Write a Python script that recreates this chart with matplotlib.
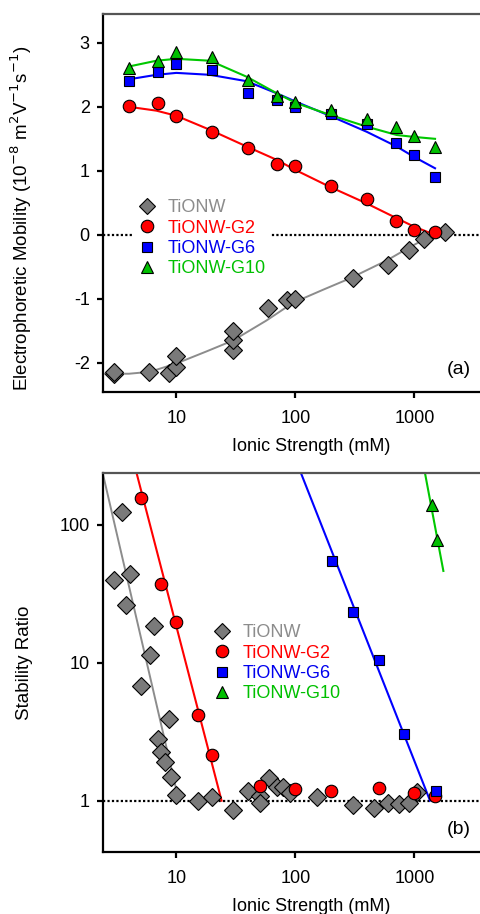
import numpy as np
import matplotlib
matplotlib.use("Agg")
import matplotlib.pyplot as plt
from matplotlib.lines import Line2D

plt.rcParams['font.family'] = ['Liberation Sans', 'DejaVu Sans']
plt.rcParams['axes.unicode_minus'] = False

# ---------------- Panel (a): electrophoretic mobility ----------------
x_ab = [4, 7, 10, 20, 40, 70, 100, 200, 400, 700, 1000, 1500]
mob_g2 = [2.01, 2.06, 1.86, 1.61, 1.35, 1.11, 1.08, 0.77, 0.56, 0.22, 0.07, 0.05]
mob_g6 = [2.41, 2.55, 2.67, 2.57, 2.21, 2.11, 1.99, 1.88, 1.73, 1.44, 1.24, 0.90]
mob_g10 = [2.60, 2.72, 2.85, 2.78, 2.42, 2.17, 2.07, 1.95, 1.81, 1.68, 1.55, 1.38]

x_bare = [3.0, 3.0, 5.9, 8.7, 10, 10, 30, 30, 30, 59, 85, 100, 305, 597, 910, 1200, 1820]
mob_bare = [-2.18, -2.15, -2.15, -2.16, -2.07, -1.89, -1.80, -1.64, -1.50, -1.14,
            -1.02, -1.01, -0.68, -0.47, -0.23, -0.07, 0.04]

# fitted curves
fit_x = [4, 6.8, 10, 19.2, 39, 70, 101, 195, 398, 710, 990, 1493]
fit_g10 = [2.63, 2.72, 2.75, 2.72, 2.47, 2.21, 2.06, 1.875, 1.69, 1.56, 1.53, 1.50]
fit_g6 = [2.43, 2.50, 2.53, 2.50, 2.40, 2.21, 2.08, 1.86, 1.61, 1.38, 1.22, 1.04]
fit_g2 = [2.00, 1.94, 1.86, 1.64, 1.38, 1.17, 1.01, 0.75, 0.49, 0.26, 0.13, 0.00]
fit_bare_x = [2.5, 4.0, 6.0, 10, 18, 30, 57, 96, 170, 288, 587, 920, 1190, 1753]
fit_bare = [-2.17, -2.17, -2.14, -2.01, -1.82, -1.65, -1.34, -1.06, -0.86, -0.68,
            -0.40, -0.19, -0.08, 0.01]

# ---------------- Panel (b): stability ratio ----------------
xs_bare = [3.52, 2.99, 4.05, 3.76, 6.5, 6.0, 5.0, 8.75, 7.07, 7.49, 8.04, 8.98, 10.0,
           15.2, 20, 30, 40, 50, 50, 60, 70, 79, 90, 151, 303, 457, 604, 745, 910, 1050]
W_bare = [124, 40, 44, 26.3, 18.6, 11.4, 6.76, 3.92, 2.79, 2.26, 1.90, 1.48, 1.10,
          0.99, 1.07, 0.86, 1.18, 1.08, 0.96, 1.46, 1.26, 1.25, 1.13, 1.07, 0.93, 0.88,
          0.96, 0.95, 0.96, 1.16]
xs_g2 = [5.0, 7.5, 10, 15.2, 20, 50, 100, 200, 508, 1000, 1500]
W_g2 = [157, 37.2, 19.8, 4.17, 2.15, 1.27, 1.21, 1.18, 1.24, 1.13, 1.08]
xs_g6 = [203, 305, 508, 812, 1517]
W_g6 = [55.2, 23.5, 10.4, 3.03, 1.17]
xs_g10 = [1417, 1540]
W_g10 = [140, 78]

line_bare_x = [2.4, 10.5]
line_bare_W = [240, 1.0]
line_g2_x = [4.64, 24]
line_g2_W = [237, 1.0]
line_g6_x = [111.7, 1355]
line_g6_W = [237, 1.0]
line_g10_x = [1230, 1754]
line_g10_W = [237, 46.4]

labels = ['TiONW', 'TiONW-G2', 'TiONW-G6', 'TiONW-G10']

# ---------------- styles ----------------
GRAY_F, RED_F, BLUE_F, GREEN_F = '#7a7a7a', '#ff0000', '#0000ff', '#00c000'
GRAY_L, RED_L, BLUE_L, GREEN_L = '#8c8c8c', '#ff0000', '#0000ff', '#00c800'
TXT = ['#8c8c8c', '#ff0000', '#0000ee', '#00c000']
FS = 13
MS_D, MS_O, MS_S, MS_T = 9.0, 9.0, 7.8, 8.8

W, H = 480, 914
fig = plt.figure(figsize=(W / 100, H / 100), dpi=100)


def ax_rect(left, top, right, bottom):
    return [left / W, 1 - bottom / H, (right - left) / W, (bottom - top) / H]


def style_axes(ax):
    for s in ['left', 'bottom']:
        ax.spines[s].set_linewidth(1.6)
        ax.spines[s].set_color('black')
    ax.spines['top'].set_linewidth(1.6)
    ax.spines['top'].set_color('#555555')
    ax.spines['right'].set_visible(False)
    ax.tick_params(which='major', direction='out', length=4.5, width=1.6,
                   labelsize=FS, top=False, right=False)
    ax.tick_params(axis='x', pad=8)
    ax.tick_params(axis='y', pad=5)
    ax.tick_params(which='minor', length=0)
    ax.set_xscale('log')
    ax.set_xticks([10, 100, 1000])
    ax.set_xticklabels(['10', '100', '1000'])


ms_kw = dict(markeredgecolor='black', markeredgewidth=0.8, linestyle='none')


def add_legend(ax, anchor):
    handles = [
        Line2D([], [], marker='D', markersize=8.4, markerfacecolor=GRAY_F, **ms_kw),
        Line2D([], [], marker='o', markersize=9.0, markerfacecolor=RED_F, **ms_kw),
        Line2D([], [], marker='s', markersize=7.8, markerfacecolor=BLUE_F, **ms_kw),
        Line2D([], [], marker='^', markersize=8.8, markerfacecolor=GREEN_F, **ms_kw),
    ]
    leg = ax.legend(handles, labels, loc='upper left', bbox_to_anchor=anchor,
                    fontsize=FS, frameon=True, facecolor='white', edgecolor='none',
                    framealpha=1, fancybox=False, handlelength=1.0, handletextpad=0.6,
                    labelspacing=0.18, borderpad=0.3, borderaxespad=0)
    for t, c in zip(leg.get_texts(), TXT):
        t.set_color(c)
    leg.set_zorder(4)
    return leg


# ---------------- top axes ----------------
ax1 = fig.add_axes(ax_rect(103, 14, 520, 392.3))
style_axes(ax1)
ax1.set_xlim(2.42, 7727)
ax1.set_ylim(-2.46, 3.45)
ax1.set_yticks([-2, -1, 0, 1, 2, 3])
ax1.axhline(0, color='black', linestyle=(0, (1, 1)), linewidth=1.6, zorder=1)

ax1.plot(fit_bare_x, fit_bare, color=GRAY_L, lw=1.4, zorder=2)
ax1.plot(fit_x, fit_g2, color=RED_L, lw=1.5, zorder=2)
ax1.plot(fit_x, fit_g6, color=BLUE_L, lw=1.5, zorder=2)
ax1.plot(fit_x, fit_g10, color=GREEN_L, lw=1.5, zorder=2)

ax1.plot(x_bare, mob_bare, marker='D', markersize=MS_D, markerfacecolor=GRAY_F, zorder=3, **ms_kw)
ax1.plot(x_ab, mob_g2, marker='o', markersize=MS_O, markerfacecolor=RED_F, zorder=3, **ms_kw)
ax1.plot(x_ab, mob_g6, marker='s', markersize=MS_S, markerfacecolor=BLUE_F, zorder=3, **ms_kw)
ax1.plot(x_ab, mob_g10, marker='^', markersize=MS_T, markerfacecolor=GREEN_F, zorder=3, **ms_kw)

ax1.set_xlabel('Ionic Strength (mM)', fontsize=FS, labelpad=8)
ax1.set_ylabel(r'Electrophoretic Mobility (10$^{-8}$ m$^{2}$V$^{-1}$s$^{-1}$)', fontsize=13.5)
ax1.yaxis.set_label_coords(-0.165, 0.46)
fig.text(447 / W, 1 - 370 / H, '(a)', fontsize=FS + 1, va='center', ha='left')
add_legend(ax1, ((133 - 103) / 417, (392.3 - 194) / 378.3))

# ---------------- bottom axes ----------------
ax2 = fig.add_axes(ax_rect(103, 473.3, 520, 852.3))
style_axes(ax2)
ax2.set_yscale('log')
ax2.set_xlim(2.42, 7727)
ax2.set_ylim(0.422, 237)
ax2.set_yticks([1, 10, 100])
ax2.set_yticklabels(['1', '10', '100'])
ax2.tick_params(which='minor', left=False, bottom=False)
ax2.axhline(1, color='black', linestyle=(0, (1, 1)), linewidth=1.6, zorder=1)

ax2.plot(line_bare_x, line_bare_W, color=GRAY_L, lw=1.4, zorder=2)
ax2.plot(line_g2_x, line_g2_W, color=RED_L, lw=1.5, zorder=2)
ax2.plot(line_g6_x, line_g6_W, color=BLUE_L, lw=1.5, zorder=2)
ax2.plot(line_g10_x, line_g10_W, color=GREEN_L, lw=1.5, zorder=2)

ax2.plot(xs_bare, W_bare, marker='D', markersize=MS_D, markerfacecolor=GRAY_F, zorder=3, **ms_kw)
ax2.plot(xs_g2, W_g2, marker='o', markersize=MS_O, markerfacecolor=RED_F, zorder=3, **ms_kw)
ax2.plot(xs_g6, W_g6, marker='s', markersize=MS_S, markerfacecolor=BLUE_F, zorder=3, **ms_kw)
ax2.plot(xs_g10, W_g10, marker='^', markersize=MS_T, markerfacecolor=GREEN_F, zorder=3, **ms_kw)

ax2.set_xlabel('Ionic Strength (mM)', fontsize=FS, labelpad=8)
ax2.set_ylabel('Stability Ratio', fontsize=13.5)
ax2.yaxis.set_label_coords(-0.168, 0.5)
fig.text(447 / W, 1 - 829 / H, '(b)', fontsize=FS + 1, va='center', ha='left')
add_legend(ax2, ((208 - 103) / 417, (852.3 - 619) / 379))

fig.savefig('out.png', dpi=100)
